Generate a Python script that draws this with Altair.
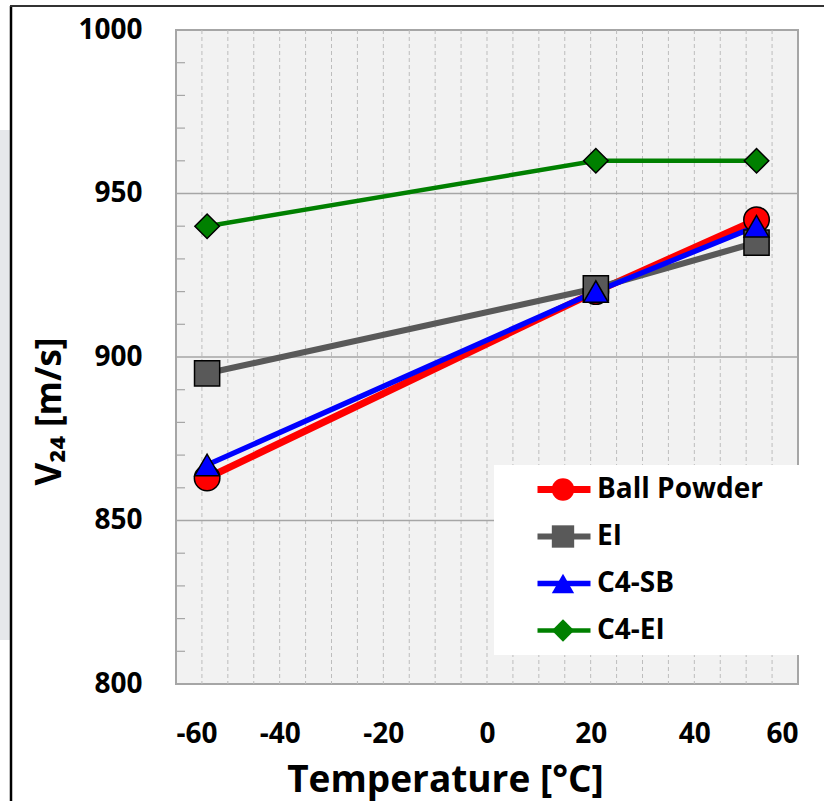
import altair as alt
import pandas as pd

# ---- data ----
temps = [-54, 21, 52]
series_names = ["Ball Powder", "EI", "C4-SB", "C4-EI"]
ball_powder = [863, 920, 942]
ei = [895, 921, 935]
c4_sb = [867, 920, 940]
c4_ei = [940, 960, 960]

colors = ["#FF0000", "#595959", "#0000FF", "#008000"]
shapes = ["circle", "square", "triangle-up", "diamond"]
marker_sizes = [650, 600, 850, 850]
line_widths = [7, 4.5, 5, 5]

x_ticks = [-60, -40, -20, 0, 20, 40, 60]
y_ticks = [800, 850, 900, 950, 1000]
x_grid = [-55, -50, -45, -40, -35, -30, -25, -20, -15, -10, -5, 0,
          5, 10, 15, 20, 25, 30, 35, 40, 45, 50, 55]
y_grid = [850, 900, 950]
y_minor = [810, 820, 830, 840, 860, 870, 880, 890, 910, 920, 930, 940,
           960, 970, 980, 990]

# separate key sets keep the line legend, the marker legend and the
# (hidden) size legend from being merged into one another
line_keys = [n + " " for n in series_names]
size_keys = [n + "  " for n in series_names]

rows = []
for name, lkey, skey, vals in zip(series_names, line_keys, size_keys,
                                  [ball_powder, ei, c4_sb, c4_ei]):
    for t, v in zip(temps, vals):
        rows.append({"series": name, "series_line": lkey, "series_size": skey,
                     "temp": t, "v": v})
df = pd.DataFrame(rows)

FONT = "Open Sans"
xscale = alt.Scale(domain=[-60, 60], nice=False, zero=False)
yscale = alt.Scale(domain=[800, 1000], nice=False, zero=False)

x_axis = alt.Axis(values=x_ticks, grid=False, ticks=False, tickSize=0, domain=False,
                  labelExpr="datum.value < 0 ? '-' + abs(datum.value) : '' + datum.value",
                  labelFont=FONT, labelFontSize=28, labelFontWeight="bold",
                  labelColor="black", labelPadding=36,
                  title="Temperature [°C]", titleFont=FONT, titleFontSize=37,
                  titleFontWeight="bold", titleColor="black",
                  titleX=269, titleY=107, titleBaseline="alphabetic", titleAlign="center")
y_axis = alt.Axis(values=y_ticks, grid=False, ticks=False, tickSize=0, domain=False,
                  format="d",
                  labelFont=FONT, labelFontSize=28, labelFontWeight="bold",
                  labelColor="black", labelPadding=34,
                  title="V₂₄ [m/s]", titleFont=FONT, titleFontSize=35,
                  titleFontWeight="bold", titleColor="black",
                  titleX=-127, titleY=381, titleAngle=270, titleBaseline="middle",
                  titleAlign="center")

X = alt.X("temp:Q", scale=xscale, axis=x_axis)
Y = alt.Y("v:Q", scale=yscale, axis=y_axis)

# gridlines
vgrid = alt.Chart(pd.DataFrame({"temp": x_grid})).mark_rule(
    color="#BDBDBD", strokeWidth=1, strokeDash=[4, 3]
).encode(x=alt.X("temp:Q", scale=xscale, axis=x_axis))

hgrid = alt.Chart(pd.DataFrame({"v": y_grid})).mark_rule(
    color="#A6A6A6", strokeWidth=1.5
).encode(y=alt.Y("v:Q", scale=yscale, axis=y_axis))

minor = alt.Chart(pd.DataFrame({"v": y_minor})).mark_rule(
    color="#A6A6A6", strokeWidth=1.2
).encode(y=alt.Y("v:Q", scale=yscale, axis=y_axis), x=alt.value(0), x2=alt.value(9))

# lower legend: white box, coloured strokes and the labels
line_legend = alt.Legend(
    orient="none", legendX=318, legendY=435, padding=1, fillColor="white",
    symbolType="stroke", symbolSize=2809, symbolStrokeWidth=5, symbolOffset=39,
    clipHeight=47, rowPadding=0, labelFont=FONT, labelFontSize=28,
    labelFontWeight="bold", labelColor="black", labelOffset=3, labelLimit=400,
    labelExpr="replace(datum.label, / +$/, '')",
    title=" ", titleOrient="right", titleFontSize=1, titlePadding=37,
)
# upper legend: the markers only, drawn over the strokes
point_legend = alt.Legend(
    orient="none", legendX=318, legendY=435, padding=1, clipHeight=47, rowPadding=0,
    symbolSize=500, symbolStrokeColor="black", symbolStrokeWidth=1.5, symbolOffset=54,
    labelFont=FONT, labelFontSize=28, labelExpr="''", title=None,
)

lines = alt.Chart(df).mark_line().encode(
    x=X, y=Y,
    color=alt.Color("series_line:N", scale=alt.Scale(domain=line_keys, range=colors),
                    legend=line_legend, sort=line_keys),
    strokeWidth=alt.StrokeWidth("series_line:N",
                                scale=alt.Scale(domain=line_keys, range=line_widths),
                                legend=None),
    order=alt.Order("temp:Q"),
)

points = alt.Chart(df).mark_point(filled=True, opacity=1, stroke="black", strokeWidth=1.5).encode(
    x=X, y=Y,
    fill=alt.Fill("series:N", scale=alt.Scale(domain=series_names, range=colors),
                  legend=point_legend, sort=series_names),
    shape=alt.Shape("series:N", scale=alt.Scale(domain=series_names, range=shapes),
                    legend=point_legend, sort=series_names),
    size=alt.Size("series_size:N", scale=alt.Scale(domain=size_keys, range=marker_sizes),
                  legend=None),
)

# outer frame of the figure (decoration)
frame_left = alt.Chart(pd.DataFrame({"k": [0]})).mark_rule(color="black", strokeWidth=2.5).encode(
    x=alt.value(-165), y=alt.value(-24), y2=alt.value(771))
frame_top = alt.Chart(pd.DataFrame({"k": [0]})).mark_rule(color="#333333", strokeWidth=2).encode(
    x=alt.value(-166), x2=alt.value(648), y=alt.value(-24))
side_strip = alt.Chart(pd.DataFrame({"k": [0]})).mark_rect(color="#E6E8EB").encode(
    x=alt.value(-176), x2=alt.value(-166), y=alt.value(100), y2=alt.value(610))

chart = alt.layer(
    vgrid, hgrid, minor, lines, points, side_strip, frame_left, frame_top
).properties(
    width=622, height=654,
    autosize=alt.AutoSizeParams(type="none"),
    padding={"left": 176, "top": 30, "right": 26, "bottom": 117},
    background="white",
).configure_view(
    fill="#F2F2F2", stroke="#A6A6A6", strokeWidth=2
)

chart.save("out.html", embed_options={"renderer": "svg", "actions": False})
